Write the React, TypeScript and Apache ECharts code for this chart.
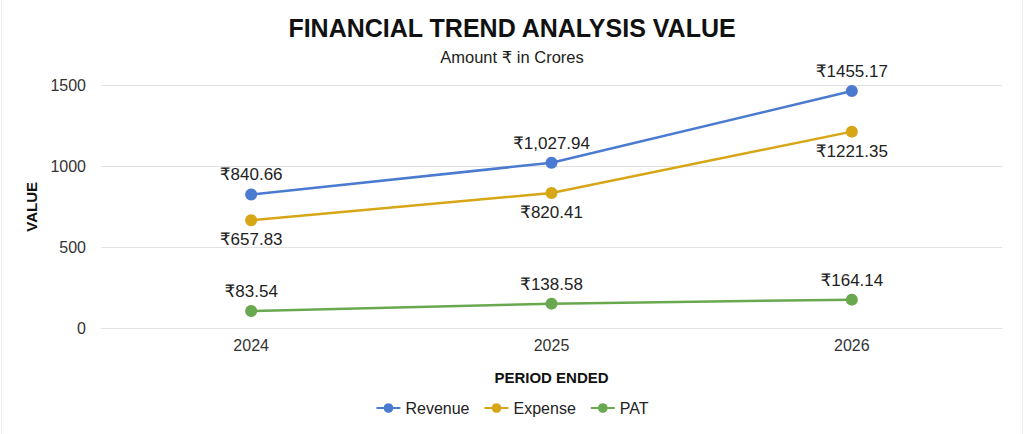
import React, { useEffect, useRef } from "react";
import * as echarts from "echarts";

const categories = ["2024", "2025", "2026"];
const seriesNames = ["Revenue", "Expense", "PAT"];
const revenueValues = [826, 1022, 1465];
const expenseValues = [667, 835, 1214];
const patValues = [107, 152, 177];
const revenueLabels = ["₹840.66", "₹1,027.94", "₹1455.17"];
const expenseLabels = ["₹657.83", "₹820.41", "₹1221.35"];
const patLabels = ["₹83.54", "₹138.58", "₹164.14"];
const yTicks = [0, 500, 1000, 1500];

const FONT = "'Liberation Sans', Arial, 'DejaVu Sans', sans-serif";
const colors = ["#4a7bd0", "#d6a616", "#6aa84f"];

export default function App() {
  const ref = useRef<HTMLDivElement>(null);
  useEffect(() => {
    const chart = echarts.init(ref.current!, null, { renderer: "svg" });
    const mk = (i: number, values: number[], labels: string[], pos: string) => ({
      name: seriesNames[i],
      type: "line",
      data: values,
      symbol: "circle",
      symbolSize: 12,
      lineStyle: { width: 2.5, color: colors[i] },
      itemStyle: { color: colors[i] },
      label: {
        show: true,
        position: pos,
        distance: 5,
        fontFamily: FONT,
        fontSize: 17,
        color: "#222",
        formatter: (p: any) => labels[p.dataIndex],
      },
    });
    chart.setOption({
      animation: false,
      backgroundColor: "#fff",
      color: colors,
      title: {
        text: "FINANCIAL TREND ANALYSIS VALUE",
        subtext: "Amount ₹ in Crores",
        left: "center",
        top: 13,
        padding: 0,
        itemGap: 4,
        textStyle: { fontFamily: FONT, fontSize: 25, fontWeight: "bold", color: "#111", lineHeight: 30 },
        subtextStyle: { fontFamily: FONT, fontSize: 16.5, color: "#222", lineHeight: 20 },
      },
      legend: {
        data: seriesNames,
        left: "center",
        top: 398,
        padding: 0,
        itemWidth: 24,
        itemHeight: 12,
        itemGap: 14,
        textStyle: { fontFamily: FONT, fontSize: 16, color: "#222", lineHeight: 20 },
      },
      grid: { left: 101, right: 22, top: 85.3, bottom: 105.7, containLabel: false },
      xAxis: {
        type: "category",
        data: categories,
        boundaryGap: true,
        name: "PERIOD ENDED",
        nameLocation: "middle",
        nameGap: 42,
        nameTextStyle: { fontFamily: FONT, fontSize: 15, fontWeight: "bold", color: "#111" },
        axisLine: { show: true, lineStyle: { color: "#e2e2e2" } },
        axisTick: { show: false },
        axisLabel: { fontFamily: FONT, fontSize: 16, color: "#333", margin: 9 },
      },
      yAxis: {
        type: "value",
        min: yTicks[0],
        max: yTicks[yTicks.length - 1],
        interval: 500,
        name: "VALUE",
        nameLocation: "middle",
        nameGap: 62,
        nameRotate: 90,
        nameTextStyle: { fontFamily: FONT, fontSize: 15, fontWeight: "bold", color: "#111" },
        axisLine: { show: false },
        axisTick: { show: false },
        splitLine: { show: true, lineStyle: { color: "#e2e2e2", width: 1 } },
        axisLabel: {
          fontFamily: FONT,
          fontSize: 16,
          color: "#333",
          margin: 15,
          formatter: (v: number) => String(v),
        },
      },
      series: [
        mk(0, revenueValues, revenueLabels, "top"),
        mk(1, expenseValues, expenseLabels, "bottom"),
        mk(2, patValues, patLabels, "top"),
      ],
    });
    return () => chart.dispose();
  }, []);
  return (
    <div style={{ position: "absolute", left: 0, top: 0, width: 1024, height: 434, background: "#fff" }}>
      <div ref={ref} style={{ position: "absolute", left: 0, top: 0, width: 1024, height: 434 }} />
      <div style={{ position: "absolute", left: 1, top: 0, width: 1, height: 434, background: "#ededed", pointerEvents: "none" }} />
      <div style={{ position: "absolute", left: 1022, top: 0, width: 1, height: 434, background: "#ededed", pointerEvents: "none" }} />
    </div>
  );
}
